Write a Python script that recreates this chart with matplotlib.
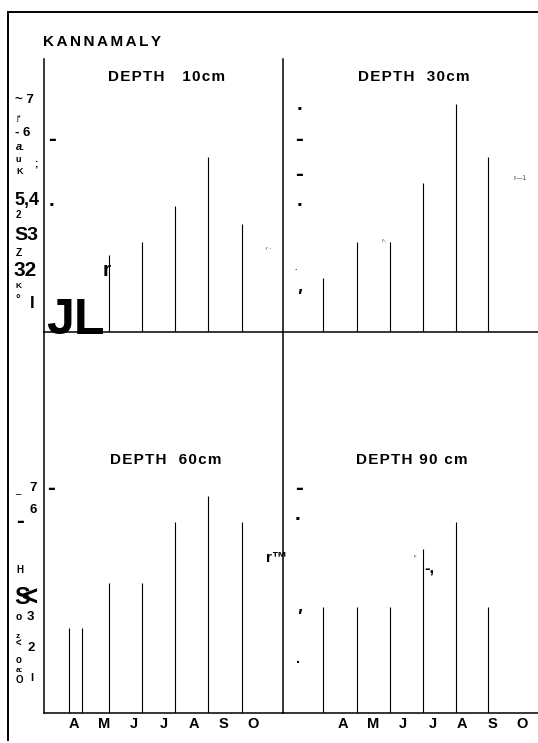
import numpy as np
import matplotlib
matplotlib.use('Agg')
import matplotlib.pyplot as plt

plt.rcParams['font.family'] = ['Liberation Sans', 'DejaVu Sans']

W, H = 538, 743

# month labels under the lower panels
months = ['A', 'M', 'J', 'J', 'A', 'S', 'O']
month_pos_left = [1, 2, 3, 4, 5, 6, 7]
month_pos_right = [2, 3, 4, 5, 6, 7, 8]

# sampling positions (month units) and values for each depth
x10 = [2.16, 3.28, 4.38, 5.48, 6.61]
v10 = [2.33, 2.73, 3.82, 5.30, 3.27]
x30 = [1.35, 2.46, 3.58, 4.67, 5.80, 6.87]
v30 = [1.64, 2.73, 2.73, 4.52, 6.91, 5.30]
x60 = [0.85, 1.27, 2.16, 3.28, 4.38, 5.48, 6.61]
v60 = [2.58, 2.58, 3.94, 3.94, 5.79, 6.58, 5.79]
x90 = [1.35, 2.46, 3.58, 4.67, 5.80, 6.87]
v90 = [3.21, 3.21, 3.21, 4.97, 5.79, 3.21]

PX_X = 29.9   # pixels per month unit
PX_Y = 33.0   # pixels per value unit

fig = plt.figure(figsize=(W / 100, H / 100), dpi=100)


def px_axes(l, t, r, b):
    ax = fig.add_axes([l / W, 1 - b / H, (r - l) / W, (b - t) / H])
    ax.set_xlim(0, (r - l) / PX_X)
    ax.set_ylim(0, (b - t) / PX_Y)
    ax.patch.set_alpha(0)
    for s in ['top', 'right']:
        ax.spines[s].set_visible(False)
    for s in ['left', 'bottom']:
        ax.spines[s].set_linewidth(1.1)
    ax.set_yticks([])
    ax.set_xticks([])
    return ax


panels = [
    ((44, 59, 283, 332), x10, v10, None),
    ((283, 59, 538, 332), x30, v30, None),
    ((44, 332, 283, 713), x60, v60, month_pos_left),
    ((283, 332, 538, 713), x90, v90, month_pos_right),
]

for box, xs, vs, mpos in panels:
    ax = px_axes(*box)
    ax.vlines(xs, 0, vs, color='black', lw=0.8)
    if mpos is not None:
        ax.set_xticks(mpos)
        ax.set_xticklabels(months, fontsize=10.5, fontweight='bold')
        ax.tick_params(axis='x', length=0, pad=2.6)

# overlay in pixel coordinates for the frame and the scanned text
ov = fig.add_axes([0, 0, 1, 1])
ov.set_xlim(0, W)
ov.set_ylim(H, 0)
ov.axis('off')
ov.patch.set_alpha(0)
ov.plot([8, W], [12, 12], color='black', lw=1.4)
ov.plot([8, 8], [12, 740], color='black', lw=1.4)


def t(x, y, s, size, weight='bold', ha='left', va='center', style='normal', color='black'):
    ov.text(x, y, s, fontsize=size, fontweight=weight, ha=ha, va=va,
            style=style, color=color)


def dash(x, y):
    t(x, y + 7, '-', 17, ha='center', va='baseline')


def dot(x, y, size=15):
    t(x, y + size * 0.1, '.', size, ha='center', va='baseline')


def spaced(s, sp):
    return sp.join(s)


t(43, 42, spaced('KANNAMALY', '\u2006'), 11)
t(167, 77, spaced('DEPTH   10cm', '\u200a'), 11, ha='center')
t(414, 77, spaced('DEPTH  30cm', '\u200a'), 11, ha='center')
t(166, 460, spaced('DEPTH  60cm', '\u200a'), 11, ha='center')
t(412, 460, spaced('DEPTH 90 cm', '\u200a'), 11, ha='center')

# left labels, upper row
t(15, 100, '~ 7', 9.5)
t(16, 118, 'j*', 5.5, weight='normal')
t(15, 133, '- 6', 9.5)
t(16, 147, 'a.', 8, style='italic')
t(16, 160, 'u', 6.5)
t(34, 163, ';', 7.5)
t(16, 171, 'K', 6.5)
t(14, 200, '5,4', 13)
t(16, 215, '2', 7)
t(14, 236, 'S3', 14)
t(16, 253, 'Z', 7.5)
t(14, 270, '32', 15)
t(16, 287, 'K', 6)
t(16, 300, '°', 8)
t(30, 303, 'I', 12)
t(46, 334, 'JL', 36, va='baseline')
t(103, 276, 'r', 15, va='baseline')
dash(52, 139)
dot(52, 205)
t(266, 249, 'r -', 4, weight='normal', color='#555555')

# upper right marks
dot(299, 109)
dash(299, 139)
dash(299, 174)
dot(299, 205)
dot(296, 269, size=6)
t(296, 297, "'", 14, style='italic')
t(382, 240, 'r-,', 4.5, weight='normal', style='italic', color='#555555')
t(514, 178, 'r\u20141', 5, weight='normal', color='#555555')

# left labels, lower row
t(15, 490, '_', 7, weight='normal')
t(29, 488, '7', 9.5)
dash(51, 488)
dash(20, 521)
t(29, 510, '6', 9.5)
t(16, 570, 'H', 7)
t(14, 598, 'S', 17)
t(22, 599, '<', 20)
t(16, 617, 'o', 7.5)
t(27, 617, '3', 9.5)
t(16, 636, 'z', 6)
t(16, 644, '<', 7)
t(28, 648, '2', 9.5)
t(16, 660, 'o', 7)
t(16, 670, 'a:', 6)
t(16, 680, 'O', 7)
t(30, 678, 'I', 8)
t(266, 558, 'r\u2122', 11)

# lower right marks
dash(299, 488)
dot(298, 519)
t(414, 556, 'r-', 4, weight='normal', color='#555555')
t(424, 569, '-,', 12)
t(296, 617, "'", 14, style='italic')
dot(298, 662, size=10)

fig.savefig('out.png', dpi=100)
